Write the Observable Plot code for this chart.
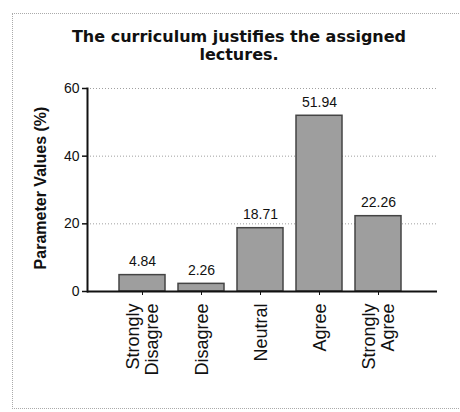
<!DOCTYPE html>
<html>
<head>
<meta charset="utf-8">
<script src="https://cdn.jsdelivr.net/npm/d3@7"></script>
<script src="https://cdn.jsdelivr.net/npm/@observablehq/plot@0.6"></script>
<style>
  html, body { margin: 0; padding: 0; background: #fff; }
  #wrap { position: relative; width: 460px; height: 412px; overflow: hidden; }
  #edge { position: absolute; left: 12px; top: 13px; width: 470px; height: 394px;
          border-top: 1px dotted #aaa; border-left: 1px dotted #aaa; border-bottom: 1px dotted #aaa; }
  #title { position: absolute; left: 40px; width: 398px; top: 28px; text-align: center;
           font-family: "DejaVu Sans", sans-serif; font-weight: bold; font-size: 16px; line-height: 18px; color: #111; }
  #chart { position: absolute; left: 0; top: 70px; }
</style>
</head>
<body>
<div id="wrap">
  <div id="edge"></div>
  <div id="title">The curriculum justifies the assigned<br>lectures.</div>
  <div id="chart"></div>
</div>
<script>
const categories = ["Strongly\nDisagree", "Disagree", "Neutral", "Agree", "Strongly\nAgree"];
const values = [4.84, 2.26, 18.71, 51.94, 22.26];
const yTicks = [0, 20, 40, 60];
const yLabel = "Parameter Values (%)";

const data = categories.map((c, i) => ({cat: c, value: values[i]}));

const chart = Plot.plot({
  width: 460,
  height: 330,
  marginLeft: 87,
  marginRight: 23,
  marginTop: 18,
  marginBottom: 109,
  style: {fontFamily: "'Liberation Sans', Arial, sans-serif", color: "#111", background: "transparent"},
  x: {domain: categories, insetLeft: 25.5, insetRight: 29.5, paddingInner: 0.22, paddingOuter: 0.11, label: null},
  y: {domain: [0, 60], label: null},
  marks: [
    Plot.gridY(yTicks, {stroke: "#888", strokeDasharray: "1,2", strokeOpacity: 0.8}),
    Plot.barY(data, {x: "cat", y: "value", fill: "#9e9e9e", stroke: "#444", strokeWidth: 1.5}),
    Plot.text(data, {x: "cat", y: "value", text: d => d.value.toFixed(2), dy: -9, lineAnchor: "bottom", fontSize: 14, fill: "#111"}),
    Plot.axisY(yTicks, {tickSize: 5, tickPadding: 3, fontSize: 14, label: null, strokeWidth: 1.5}),
    Plot.axisX({tickSize: 4, tickPadding: 8, tickRotate: -90, fontSize: 18, lineHeight: 1.05, label: null}),
    Plot.ruleY([0], {stroke: "#111", strokeWidth: 2}),
    Plot.frame({anchor: "left", stroke: "#111", strokeWidth: 2}),
    Plot.text([yLabel], {frameAnchor: "left", textAnchor: "middle", rotate: -90, dx: -47, dy: -2, fontWeight: "bold", fontSize: 16, fill: "#111"})
  ]
});
document.getElementById("chart").appendChild(chart);
</script>
</body>
</html>
